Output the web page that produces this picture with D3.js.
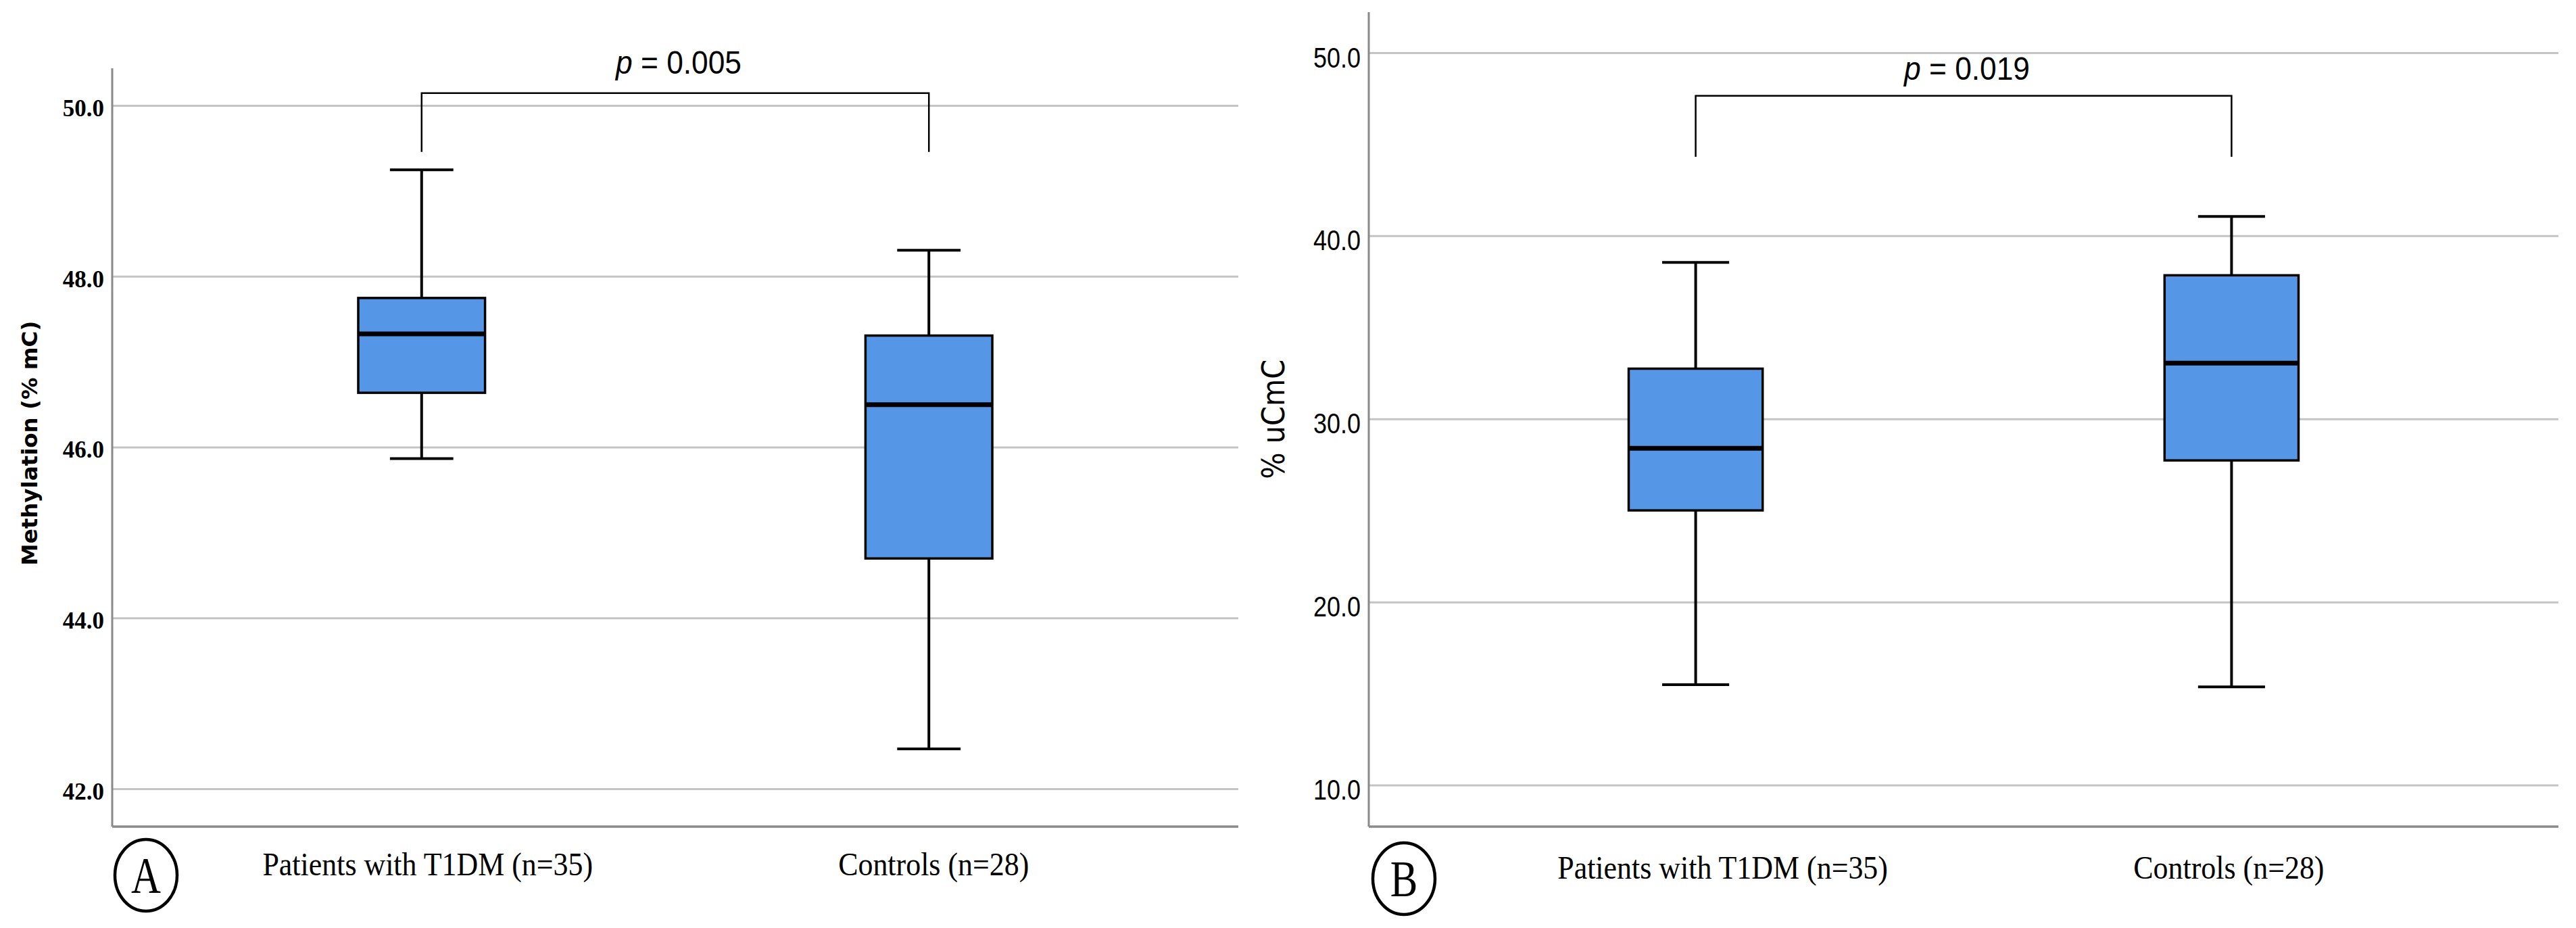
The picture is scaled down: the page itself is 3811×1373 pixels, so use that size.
<!DOCTYPE html>
<html>
<head>
<meta charset="utf-8">
<script src="https://cdn.jsdelivr.net/npm/d3@7"></script>
<style>
  body { margin: 0; background: #fff; }
</style>
</head>
<body>
<svg id="chart" width="3811" height="1373"></svg>
<script>
// groups on the x axis (same in both panels)
var groups = ["Patients with T1DM (n=35)", "Controls (n=28)"];

// panel A : methylation (% mC)
var methylMin    = [45.87, 42.47];
var methylQ1     = [46.64, 44.70];
var methylMedian = [47.33, 46.50];
var methylQ3     = [47.75, 47.31];
var methylMax    = [49.25, 48.31];
var methylTicks  = [42, 44, 46, 48, 50];

// panel B : % uCmC
var ucmcMin    = [15.50, 15.38];
var ucmcQ1     = [25.02, 27.75];
var ucmcMedian = [28.41, 33.06];
var ucmcQ3     = [32.76, 37.86];
var ucmcMax    = [38.56, 41.07];
var ucmcTicks  = [10, 20, 30, 40, 50];

// significance brackets
var pValues = ["0.005", "0.019"];
var bracketTop = [50.15, 47.66];
var bracketLeg = [49.46, 44.33];

var svg = d3.select("#chart");
var boxFill = "#5597e6";

function drawPanel(p) {
  var g = svg.append("g");
  var rows = groups.map(function(name, i) {
    return {name: name, min: p.min[i], q1: p.q1[i], med: p.med[i], q3: p.q3[i], max: p.max[i]};
  });

  var x = d3.scalePoint().domain(groups).range([p.left, p.right]).padding(0.61);
  var y = d3.scaleLinear().domain(p.domain).range([p.bottom, p.top]);
  var bw = x.step() * 0.25;

  // grid
  g.selectAll(".grid").data(p.ticks).enter().append("line")
    .attr("x1", p.left).attr("x2", p.right)
    .attr("y1", function(d){ return y(d); })
    .attr("y2", function(d){ return y(d); })
    .attr("stroke", "#c4c4c4").attr("stroke-width", 3);

  // axis lines
  g.append("line").attr("x1", p.left).attr("x2", p.left)
    .attr("y1", p.top).attr("y2", p.bottom)
    .attr("stroke", "#8a8a8a").attr("stroke-width", 3);
  g.append("line").attr("x1", p.left).attr("x2", p.right)
    .attr("y1", p.bottom).attr("y2", p.bottom)
    .attr("stroke", "#8a8a8a").attr("stroke-width", 3.5);

  // y tick labels
  var yAxis = g.append("g").attr("transform", "translate(" + p.left + ",0)")
    .call(d3.axisLeft(y).tickValues(p.ticks).tickFormat(d3.format(".1f")).tickSize(0).tickPadding(12));
  yAxis.select(".domain").remove();
  yAxis.selectAll("text")
    .attr("font-family", p.tickFont)
    .attr("font-weight", p.tickWeight)
    .attr("font-size", p.tickSize)
    .attr("fill", "#000")
    .attr("dy", p.tickDy);
  if (p.tickLength) {
    yAxis.selectAll("text").attr("textLength", p.tickLength).attr("lengthAdjust", "spacingAndGlyphs");
  }

  // y label
  g.append("text")
    .attr("transform", "translate(" + p.yLabelX + "," + y(p.yLabelAt) + ") rotate(-90)")
    .attr("text-anchor", "middle")
    .attr("font-family", "'DejaVu Sans', Arial, sans-serif")
    .attr("font-weight", p.yLabelWeight)
    .attr("font-size", p.yLabelSize)
    .attr("textLength", p.yLabelLength)
    .attr("lengthAdjust", "spacingAndGlyphs")
    .text(p.yLabel);

  // whiskers
  var box = g.selectAll(".box").data(rows).enter().append("g");
  box.append("line")
    .attr("x1", function(d){ return x(d.name); }).attr("x2", function(d){ return x(d.name); })
    .attr("y1", function(d){ return y(d.max); }).attr("y2", function(d){ return y(d.min); })
    .attr("stroke", "#000").attr("stroke-width", 4);
  ["min", "max"].forEach(function(k) {
    box.append("line")
      .attr("x1", function(d){ return x(d.name) - bw / 4; })
      .attr("x2", function(d){ return x(d.name) + bw / 4; })
      .attr("y1", function(d){ return y(d[k]); })
      .attr("y2", function(d){ return y(d[k]); })
      .attr("stroke", "#000").attr("stroke-width", 4);
  });
  box.append("rect")
    .attr("x", function(d){ return x(d.name) - bw / 2; })
    .attr("width", bw)
    .attr("y", function(d){ return y(d.q3); })
    .attr("height", function(d){ return y(d.q1) - y(d.q3); })
    .attr("fill", boxFill).attr("stroke", "#000").attr("stroke-width", 3.5);
  box.append("line")
    .attr("x1", function(d){ return x(d.name) - bw / 2; })
    .attr("x2", function(d){ return x(d.name) + bw / 2; })
    .attr("y1", function(d){ return y(d.med); })
    .attr("y2", function(d){ return y(d.med); })
    .attr("stroke", "#000").attr("stroke-width", 7);

  // x labels
  g.selectAll(".xlab").data(groups).enter().append("text")
    .attr("transform", function(d, i){
      return "translate(" + (x(d) + p.labelShift[i]) + "," + p.labelY + ") scale(0.915,1)";
    })
    .attr("text-anchor", "middle")
    .attr("font-family", "'Liberation Serif', 'Times New Roman', serif")
    .attr("font-size", 48)
    .text(function(d){ return d; });

  // panel letter
  g.append("ellipse")
    .attr("cx", p.letterX).attr("cy", p.letterY)
    .attr("rx", 46).attr("ry", 53)
    .attr("fill", "none").attr("stroke", "#000").attr("stroke-width", 4.5);
  g.append("text")
    .attr("transform", "translate(" + p.letterX + "," + (p.letterY + 26) + ") scale(0.8,1)")
    .attr("text-anchor", "middle")
    .attr("font-family", "'Liberation Serif', 'Times New Roman', serif")
    .attr("font-size", 76)
    .text(p.letter);

  // significance bracket
  var x0 = x(groups[0]), x1 = x(groups[1]);
  var yt = y(p.bTop), yl = y(p.bLeg);
  g.append("path")
    .attr("d", "M" + x0 + "," + yl + "V" + yt + "H" + x1 + "V" + yl)
    .attr("fill", "none").attr("stroke", "#000").attr("stroke-width", 2.5);
  var pt = g.append("text")
    .attr("x", (x0 + x1) / 2 + 5).attr("y", yt - p.pGap)
    .attr("text-anchor", "middle")
    .attr("font-family", "'Liberation Sans', Arial, sans-serif")
    .attr("font-size", 48)
    .attr("textLength", 186).attr("lengthAdjust", "spacingAndGlyphs");
  pt.append("tspan").attr("font-style", "italic").text("p");
  pt.append("tspan").text(" = " + p.pValue);
}

drawPanel({
  left: 166, right: 1832, top: 101, bottom: 1223,
  domain: [41.56, 50.44], ticks: methylTicks,
  min: methylMin, q1: methylQ1, med: methylMedian, q3: methylQ3, max: methylMax,
  tickFont: "'Liberation Serif', 'Times New Roman', serif", tickWeight: "bold", tickSize: 35, tickDy: "0.42em",
  tickLength: null,
  yLabel: "Methylation (% mC)", yLabelX: 55, yLabelAt: 46.05, yLabelSize: 32, yLabelWeight: "bold", yLabelLength: 362,
  labelShift: [9, 7], labelY: 1295,
  letter: "A", letterX: 216, letterY: 1295,
  bTop: bracketTop[0], bLeg: bracketLeg[0], pValue: pValues[0], pGap: 29
});

drawPanel({
  left: 2025, right: 3785, top: 18, bottom: 1223,
  domain: [7.75, 52.23], ticks: ucmcTicks,
  min: ucmcMin, q1: ucmcQ1, med: ucmcMedian, q3: ucmcQ3, max: ucmcMax,
  tickFont: "'Liberation Sans Narrow', 'Liberation Sans', Arial, sans-serif", tickWeight: "normal", tickSize: 43, tickDy: "0.48em",
  tickLength: 70,
  yLabel: "% uCmC", yLabelX: 1900, yLabelAt: 30.0, yLabelSize: 46, yLabelWeight: "normal", yLabelLength: 177,
  labelShift: [40, -4], labelY: 1300,
  letter: "B", letterX: 2077, letterY: 1300,
  bTop: bracketTop[1], bLeg: bracketLeg[1], pValue: pValues[1], pGap: 24
});
</script>
</body>
</html>
